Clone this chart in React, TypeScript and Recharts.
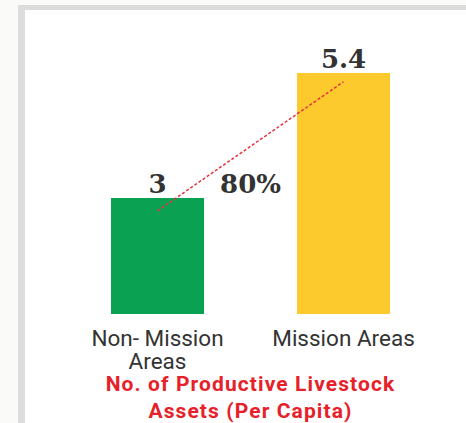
import React from "react";
import {
  ComposedChart,
  Bar,
  Line,
  XAxis,
  YAxis,
  Cell,
  LabelList,
} from "recharts";

const categories = ["Non- Mission Areas", "Mission Areas"];
const tickLines = [["Non- Mission", "Areas"], ["Mission Areas"]];
const assets = [3, 5.4];
const trend = [2.75, 5.23];
const barColors = ["#0aa152", "#fdca2e"];

const data = categories.map((name, i) => ({
  name,
  assets: assets[i],
  trend: trend[i],
}));

const growth = Math.round(((assets[1] - assets[0]) / assets[0]) * 100);

const valueFont = {
  fontFamily: "'DejaVu Serif', serif",
  fontWeight: 700,
  fontSize: 26,
  fill: "#333",
};

const CategoryTick: React.FC<any> = ({ x, y, index }) => {
  const lines = tickLines[index] || [];
  return (
    <text
      x={x}
      y={y}
      textAnchor="middle"
      fill="#333"
      style={{ fontFamily: "Roboto, sans-serif", fontSize: 22.5 }}
    >
      {lines.map((l, i) => (
        <tspan key={i} x={x} dy={i === 0 ? 24 : 23}>
          {l}
        </tspan>
      ))}
    </text>
  );
};

// growth label sits next to the first value label, between the two bars
const GrowthLabel: React.FC<any> = ({ x, y, index }) => {
  if (index !== 0) return null;
  return (
    <text x={x + 93} y={y - 18} textAnchor="middle" style={valueFont}>
      {`${growth}%`}
    </text>
  );
};

export default function App() {
  return (
    <div
      style={{
        position: "absolute",
        left: 0,
        top: 0,
        width: 466,
        height: 423,
        background: "#fafaf8",
        overflow: "hidden",
      }}
    >
      <div
        style={{
          position: "absolute",
          left: 18,
          top: 5,
          width: 500,
          height: 500,
          background: "#fff",
          borderLeft: "7px solid #dcdcdc",
          borderTop: "5px solid #dcdcdc",
        }}
      />
      <div style={{ position: "absolute", left: 0, top: 0 }}>
        <ComposedChart
          width={466}
          height={423}
          data={data}
          margin={{ top: 50, right: 29.5, left: 64.5, bottom: 79 }}
          barCategoryGap="25%"
        >
          <XAxis
            dataKey="name"
            axisLine={false}
            tickLine={false}
            height={30}
            interval={0}
            tick={<CategoryTick />}
          />
          <YAxis hide domain={[0.77, 5.84]} />
          <Bar dataKey="assets" isAnimationActive={false}>
            {data.map((d, i) => (
              <Cell key={d.name} fill={barColors[i]} />
            ))}
            <LabelList dataKey="assets" position="top" offset={5} style={valueFont} />
          </Bar>
          <Line
            type="linear"
            dataKey="trend"
            stroke="#e5323b"
            strokeWidth={1.5}
            strokeDasharray="3 2"
            dot={false}
            activeDot={false}
            isAnimationActive={false}
          >
            <LabelList dataKey="trend" content={<GrowthLabel />} />
          </Line>
        </ComposedChart>
      </div>
      <div
        style={{
          position: "absolute",
          left: 40,
          width: 421,
          top: 371,
          textAlign: "center",
          color: "#e62129",
          fontFamily: "Roboto, sans-serif",
          fontWeight: 700,
          fontSize: 21,
          letterSpacing: 1.1,
          lineHeight: "27px",
        }}
      >
        No. of Productive Livestock
        <br />
        Assets (Per Capita)
      </div>
    </div>
  );
}
